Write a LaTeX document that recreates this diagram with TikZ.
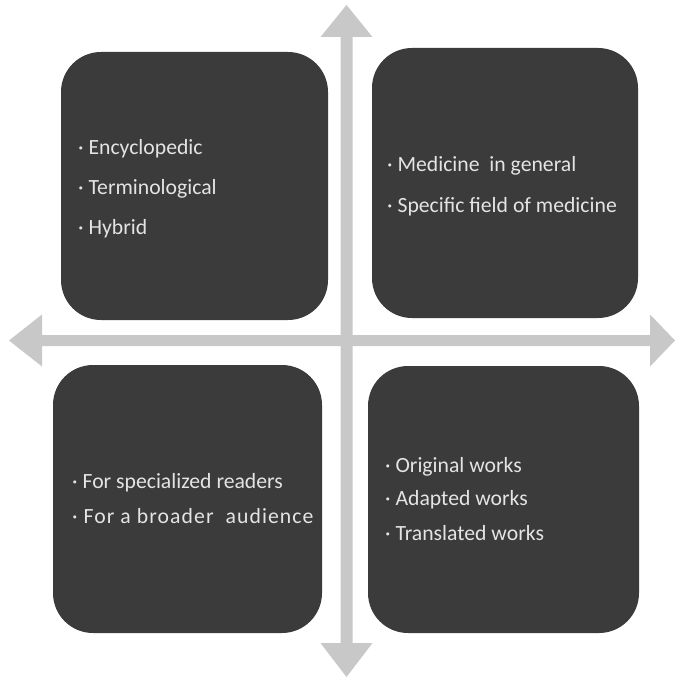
\documentclass[tikz,border=0pt]{standalone}
\usepackage{fontspec}
\setmainfont{Carlito}
\newfontfamily\widefont[LetterSpace=5]{Carlito}
\definecolor{boxgray}{HTML}{3B3B3B}
\definecolor{arrowgray}{HTML}{C8C8C8}
\definecolor{textgray}{HTML}{E4E4E4}
\begin{document}
\begin{tikzpicture}[x=1pt,y=-1pt,
  quad/.style={fill=boxgray,rounded corners=40pt,inner sep=0pt},
  item/.style={anchor=west,text=textgray,font=\fontsize{21.7}{24}\selectfont,inner sep=0pt},
  axis/.style={fill=arrowgray}]
\useasboundingbox (0,0) rectangle (677,679);
% axes
\fill[axis] (9,340.5) -- (42,314.5) -- (42,335) -- (650,335) -- (650,314.5) -- (675,340.5)
  -- (650,366.5) -- (650,346) -- (42,346) -- (42,366.5) -- cycle;
\fill[axis] (346.5,5) -- (372.5,37) -- (352.5,37) -- (352.5,643) -- (372.5,643) -- (346.5,677)
  -- (320.5,643) -- (340.5,643) -- (340.5,37) -- (320.5,37) -- cycle;
% boxes
\node[quad,minimum width=267pt,minimum height=268pt] (tl) at (194.5,186) {};
\node[quad,minimum width=266pt,minimum height=270pt] (tr) at (505,183) {};
\node[quad,minimum width=269pt,minimum height=268pt] (bl) at (187.5,499) {};
\node[quad,minimum width=271pt,minimum height=267pt] (br) at (503.5,499.5) {};
% texts
\node[item] (tl1) at (78,149) {· Encyclopedic};
\node[item] (tl2) at (78,189) {· Terminological};
\node[item] (tl3) at (78,229) {· Hybrid};
\node[item] (tr1) at (387,166) {· Medicine\ \ in general};
\node[item] (tr2) at (387,207) {· Specific field of medicine};
\node[item] (bl1) at (72,483) {· For specialized readers};
\node[item,font=\widefont\fontsize{21.7}{24}\selectfont] (bl2) at (72,516) {· For a broader\ \ audience};
\node[item] (br1) at (385,467) {· Original works};
\node[item] (br2) at (385,500) {· Adapted works};
\node[item] (br3) at (385,533) {· Translated works};
\end{tikzpicture}
\end{document}
